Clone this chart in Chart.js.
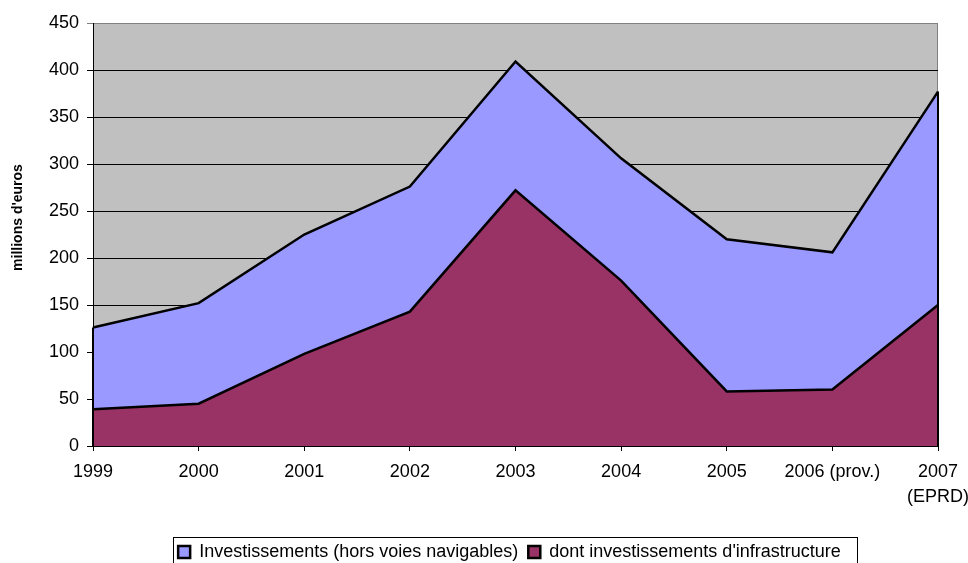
<!DOCTYPE html>
<html>
<head>
<meta charset="utf-8">
<script src="https://cdn.jsdelivr.net/npm/chart.js@4/dist/chart.umd.min.js"></script>
<style>
  html, body { margin: 0; padding: 0; background: #ffffff; }
  #wrap { width: 968px; height: 563px; }
</style>
</head>
<body>
<div id="wrap"><canvas id="c" width="968" height="563"></canvas></div>
<script>
const categories = ['1999', '2000', '2001', '2002', '2003', '2004', '2005', '2006 (prov.)', ['2007', '(EPRD)']];
const investTotal = [126, 152, 225, 276, 409, 306, 220, 206, 377];
const investInfra = [39, 45, 98, 143, 272, 176, 58, 60, 150];
const seriesLabels = ['Investissements (hors voies navigables)', "dont investissements d'infrastructure"];
const yTitle = "millions d'euros";
const yMin = 0, yMax = 450, yStep = 50;

const FONT = "'Liberation Sans', Arial, sans-serif";
const LEGEND_SHIFT = -6;

const plotBg = {
  id: 'plotBg',
  afterLayout(chart) {
    const lg = chart.legend;
    if (lg) {
      lg.left += LEGEND_SHIFT;
      lg.right += LEGEND_SHIFT;
      (lg.legendHitBoxes || []).forEach(h => { h.left += LEGEND_SHIFT; });
    }
  },
  beforeDraw(chart) {
    const { ctx, chartArea: a } = chart;
    ctx.save();
    ctx.fillStyle = '#C0C0C0';
    ctx.fillRect(a.left, a.top, a.right - a.left, a.bottom - a.top);
    ctx.strokeStyle = '#808080';
    ctx.lineWidth = 1;
    ctx.beginPath();
    ctx.moveTo(Math.round(a.right) - 0.5, a.top);
    ctx.lineTo(Math.round(a.right) - 0.5, a.bottom);
    ctx.stroke();
    ctx.restore();
  },
  afterDatasetsDraw(chart) {
    const { ctx, chartArea: a } = chart;
    const meta = chart.getDatasetMeta(0);
    const pts = meta.data;
    if (!pts.length) return;
    ctx.save();
    ctx.strokeStyle = '#000';
    ctx.lineWidth = 2;
    ctx.beginPath();
    const last = pts[pts.length - 1];
    ctx.moveTo(last.x, last.y);
    ctx.lineTo(last.x, a.bottom);
    const first = pts[0];
    ctx.moveTo(first.x, first.y);
    ctx.lineTo(first.x, a.bottom);
    ctx.stroke();
    ctx.restore();
  },
  afterDraw(chart) {
    const { ctx } = chart;
    ctx.save();
    ctx.fillStyle = '#000';
    ctx.font = 'bold 14px ' + FONT;
    ctx.textAlign = 'center';
    ctx.textBaseline = 'middle';
    ctx.translate(18, 217.5);
    ctx.rotate(-Math.PI / 2);
    ctx.fillText(yTitle, 0, 0);
    ctx.restore();
    const lg = chart.legend;
    if (lg && lg.legendHitBoxes && lg.legendHitBoxes.length) {
      const hb = lg.legendHitBoxes;
      const left = Math.min(...hb.map(h => h.left)) - 5;
      const right = Math.max(...hb.map(h => h.left + h.width)) + 16;
      const top = hb[0].top - 6;
      ctx.save();
      ctx.strokeStyle = '#000';
      ctx.lineWidth = 1;
      ctx.strokeRect(Math.round(left) + 0.5, Math.round(top) + 0.5, Math.round(right - left), 40);
      ctx.restore();
    }
  }
};

new Chart(document.getElementById('c'), {
  type: 'line',
  data: {
    labels: categories,
    datasets: [
      {
        label: seriesLabels[0],
        data: investTotal,
        backgroundColor: '#9999FF',
        borderColor: '#000000',
        borderWidth: 2.5,
        fill: 'origin',
        pointRadius: 0,
        tension: 0,
        order: 2
      },
      {
        label: seriesLabels[1],
        data: investInfra,
        backgroundColor: '#993366',
        borderColor: '#000000',
        borderWidth: 2.5,
        fill: 'origin',
        pointRadius: 0,
        tension: 0,
        order: 1
      }
    ]
  },
  options: {
    responsive: false,
    animation: false,
    devicePixelRatio: 1,
    layout: { padding: { left: 0, top: 23, right: 30, bottom: -8 } },
    plugins: {
      tooltip: { enabled: false },
      legend: {
        position: 'bottom',
        fullSize: false,
        labels: {
          boxWidth: 12,
          boxHeight: 12,
          padding: 10,
          color: '#000',
          font: { family: FONT, size: 18 },
          sort: (a, b) => a.datasetIndex - b.datasetIndex
        }
      }
    },
    scales: {
      x: {
        type: 'category',
        offset: false,
        grid: { drawOnChartArea: false, drawTicks: true, tickLength: 5, color: '#000' },
        border: { color: '#000', width: 1 },
        ticks: {
          color: '#000',
          font: { family: FONT, size: 18, lineHeight: 1.39 },
          padding: 9,
          maxRotation: 0,
          autoSkip: false
        },
        afterFit(scale) {
          scale.paddingLeft = 0;
          scale.paddingRight = 0;
          scale.height = 87;
        }
      },
      y: {
        min: yMin,
        max: yMax,
        grid: {
          color: (c) => (c.tick && c.tick.value === yMax ? '#808080' : '#000'),
          lineWidth: 1,
          tickLength: 6
        },
        border: { color: '#000', width: 1 },
        ticks: {
          stepSize: yStep,
          color: '#000',
          font: { family: FONT, size: 18 },
          padding: 8
        },
        afterFit(scale) {
          scale.width = 93;
        }
      }
    }
  },
  plugins: [plotBg]
});
</script>
</body>
</html>
